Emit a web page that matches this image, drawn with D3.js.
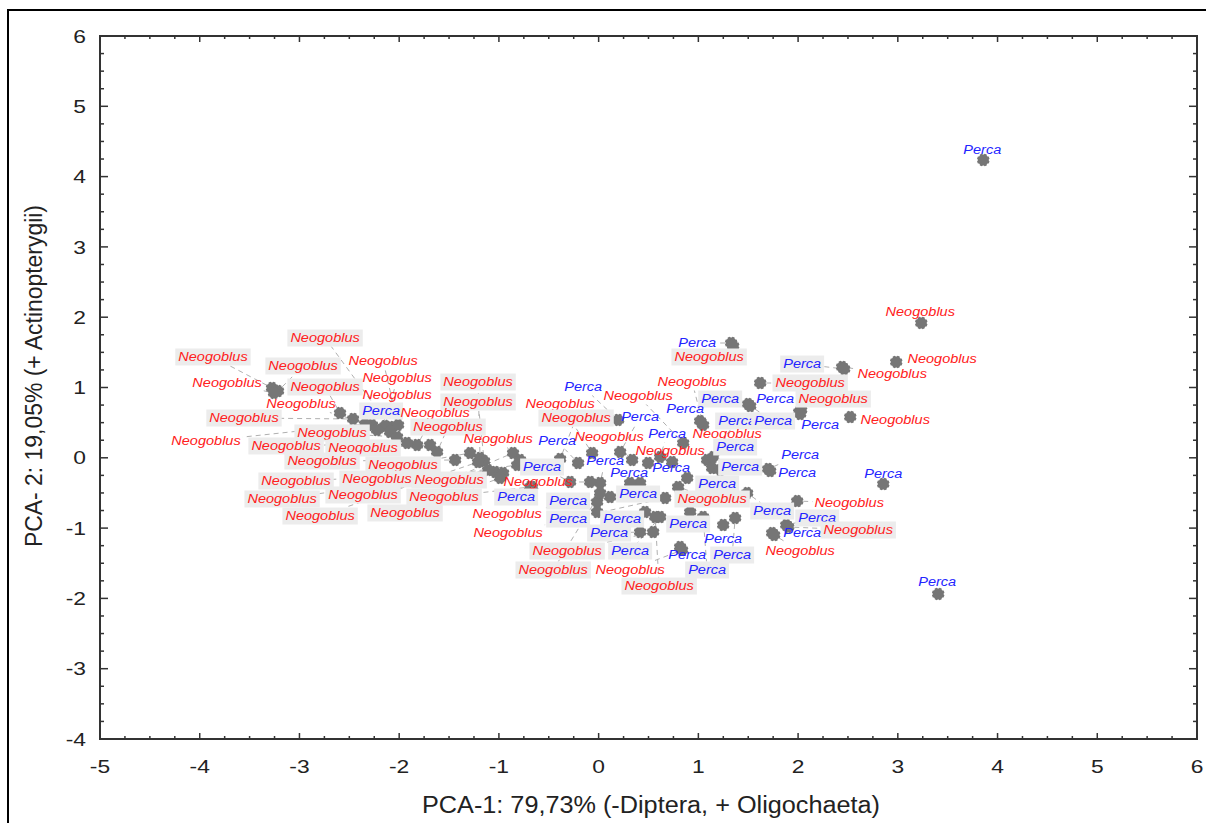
<!DOCTYPE html>
<html><head><meta charset="utf-8">
<script src="https://cdn.jsdelivr.net/npm/d3@7"></script>
<style>html,body{margin:0;padding:0;background:#fff;overflow:hidden;} svg{display:block;}</style>
</head><body>
<script>
// ---------- DATA ----------
const N = "Neogoblus", P = "Perca";
const species = [
  N,N,N,N,N,N,N,N,N,N, N,N,P,N,N,N,N,N,N,N, N,N,N,N,N,N,N,N,N,N,
  P,N,N,P,N,N,P,P,N,P, P,P,N,P,N,P,N,P,P,P, P,P,N,P,P,P,N,P,N,P,
  P,P,N,P,P,N,P,P,P,N, N,P,N,
  N,N,N,P,N,P,N,P,P,N, P,P,P,N,P,P,N,P,N,P,P
];
const pc1 = [
  -2.091,-3.275,-3.215,-2.011,-3.255,-2.593,-2.141,-1.189,-2.272,-2.222,
  -1.148,-2.462,-2.091,-1.820,-1.620,-2.342,-2.021,-1.921,-1.690,-1.439,
  -1.289,-1.038,-0.958,-0.858,-0.817,-1.108,-0.687,-1.209,-0.988,-0.787,
  1.329,1.349,1.048,0.196,0.848,-0.065,1.499,1.018,-0.386,0.216,
  1.088,-0.206,0.336,0.617,1.138,1.148,0.496,-0.286,0.015,0.416,
  0.737,1.219,-0.085,0.888,-0.667,0.316,0.797,-0.015,0.115,-0.015,
  0.466,0.918,0.667,0.416,1.249,0.547,0.617,0.817,1.369,0.015,
  0.837,1.048,0.567,
  3.235,2.984,2.442,2.462,1.620,2.011,2.031,1.520,2.021,2.523,
  1.700,1.720,2.854,1.991,1.489,1.881,1.901,1.740,1.760,3.857,3.405
];
const pc2 = [
  0.438,0.993,0.950,0.467,0.922,0.637,0.452,-0.003,0.467,0.395,
  -0.046,0.552,0.367,0.182,0.083,0.481,0.296,0.211,0.182,-0.031,
  0.068,-0.202,-0.216,0.068,-0.102,-0.174,-0.415,-0.060,-0.287,-0.031,
  1.633,1.590,0.467,0.538,0.211,0.068,0.765,0.523,-0.017,0.083,
  -0.031,-0.074,-0.031,0.011,-0.145,0.011,-0.074,-0.344,-0.358,-0.358,
  -0.060,-0.174,-0.344,-0.287,-0.415,-0.358,-0.415,-0.629,-0.558,-0.771,
  -0.771,-0.771,-0.572,-1.056,-0.956,-1.056,-0.842,-1.269,-0.856,-0.501,
  -1.312,-0.842,-0.842,
  1.918,1.363,1.292,1.263,1.064,0.651,0.680,0.737,0.623,0.580,
  -0.159,-0.188,-0.373,-0.615,-0.501,-0.956,-0.984,-1.070,-1.098,4.236,-1.937
];
// label anchor positions (in PCA units)
const labelPc1 = [
  -2.743,-3.867,-2.964,-2.161,-3.726,-2.743,-2.021,-1.209,-2.984,-2.021,
  -1.209,-3.556,-2.181,-1.640,-1.510,-3.937,-2.673,-3.134,-2.362,-2.773,
  -1.961,-3.034,-2.222,-1.499,-3.174,-2.362,-1.550,-2.793,-1.941,-1.008,
  0.988,1.108,0.938,-0.155,0.396,-0.386,1.219,0.868,-0.226,0.416,
  1.389,-0.416,0.105,0.687,1.289,1.369,0.717,-0.567,0.065,0.306,
  0.727,1.419,-0.607,1.189,-0.827,0.396,1.138,-0.306,-0.918,-0.306,
  0.236,0.898,-0.908,0.105,1.249,-0.316,0.316,0.888,1.339,-0.456,
  0.316,1.088,0.607,
  3.225,3.445,2.944,2.041,2.121,1.770,2.352,1.750,2.222,2.974,
  2.021,1.991,2.854,2.513,1.740,2.192,2.603,2.041,2.021,3.847,3.395
];
const labelPc2 = [
  1.704,1.434,1.306,1.377,1.064,1.007,1.135,1.078,0.765,0.893,
  0.794,0.566,0.666,0.637,0.438,0.239,0.353,0.168,0.139,-0.046,
  -0.102,-0.330,-0.302,-0.316,-0.586,-0.529,-0.558,-0.828,-0.785,0.267,
  1.633,1.434,1.078,1.007,0.879,0.765,0.836,0.694,0.566,0.580,
  0.523,0.239,0.296,0.339,0.339,0.154,0.097,-0.131,-0.046,-0.216,
  -0.145,-0.131,-0.344,-0.373,-0.558,-0.515,-0.586,-0.615,-0.799,-0.871,
  -0.871,-0.942,-1.070,-1.070,-1.155,-1.326,-1.326,-1.383,-1.383,-1.596,
  -1.596,-1.596,-1.824,
  2.074,1.405,1.192,1.334,1.064,0.836,0.836,0.523,0.467,0.538,
  0.040,-0.216,-0.230,-0.643,-0.757,-0.856,-1.027,-1.070,-1.326,4.378,-1.767
];
const labelShaded = [
  1,1,1,0,0,1,0,1,0,0, 1,1,1,0,1,0,1,1,1,1, 1,1,1,1,1,1,1,1,1,0,
  0,1,0,0,0,0,1,0,1,0, 1,0,0,0,0,1,0,1,0,0, 0,1,0,1,1,1,1,1,0,1,
  1,1,0,1,0,1,1,0,1,1, 0,1,1,
  0,0,0,1,1,0,1,1,0,0, 0,0,0,0,1,1,1,0,0,0,0
];
const xTickValues = [-5,-4,-3,-2,-1,0,1,2,3,4,5,6];
const yTickValues = [-4,-3,-2,-1,0,1,2,3,4,5,6];
const xTitle = "PCA-1: 79,73% (-Diptera, + Oligochaeta)";
const yTitle = "PCA- 2: 19,05% (+ Actinopterygii)";

// ---------- DRAW ----------
const W = 1206, H = 823;
const svg = d3.select("body").append("svg").attr("width", W).attr("height", H);
const FONT = "'Liberation Sans', Arial, sans-serif";

svg.append("rect").attr("x", 8).attr("y", 10).attr("width", 1220).attr("height", 840)
  .attr("fill", "#fff").attr("stroke", "#000").attr("stroke-width", 2);

const x = d3.scaleLinear().domain([-5, 6]).range([100, 1197]);
const y = d3.scaleLinear().domain([-4, 6]).range([739, 36]);

function stretch(sel, k) {
  sel.each(function () {
    const l = this.getComputedTextLength();
    d3.select(this).attr("textLength", l * k).attr("lengthAdjust", "spacingAndGlyphs");
  });
}

const records = species.map((s, i) => ({
  s, mx: x(pc1[i]), my: y(pc2[i]), lx: x(labelPc1[i]), ly: y(labelPc2[i]), bg: labelShaded[i]
}));

// label metrics
const measure = svg.append("text").attr("font-family", FONT).attr("font-style", "italic").attr("font-size", 12.3);
const widthOf = {};
[N, P].forEach(t => { measure.text(t); widthOf[t] = measure.node().getComputedTextLength() * 1.18; });
measure.remove();

// leader lines
const lead = svg.append("g").attr("stroke", "#b0b0b0").attr("stroke-width", 1).attr("stroke-dasharray", "5,4").attr("fill", "none");
records.forEach(r => {
  const hw = widthOf[r.s] / 2 + 2, hh = 8.5;
  const dx = r.lx - r.mx, dy = r.ly - r.my;
  const len = Math.hypot(dx, dy);
  if (len < 1) return;
  const s = Math.min(dx !== 0 ? hw / Math.abs(dx) : Infinity, dy !== 0 ? hh / Math.abs(dy) : Infinity);
  if (s >= 1) return;
  const ex = r.lx - dx * s, ey = r.ly - dy * s;
  const rem = len * (1 - s);
  if (rem < 10) return;
  const sx = r.mx + dx / len * 6, sy = r.my + dy / len * 6;
  lead.append("line").attr("x1", sx).attr("y1", sy).attr("x2", ex).attr("y2", ey);
});

// cog markers (rounded blob with shallow notches)
function cogPath(R1, R2, teeth) {
  const pts = [];
  for (let i = 0; i < teeth; i++) {
    const a = i * 2 * Math.PI / teeth;
    const w = Math.PI / teeth;
    pts.push([R2 * Math.cos(a - w * 0.75), R2 * Math.sin(a - w * 0.75)]);
    pts.push([R1 * Math.cos(a - w * 0.45), R1 * Math.sin(a - w * 0.45)]);
    pts.push([R1 * Math.cos(a + w * 0.45), R1 * Math.sin(a + w * 0.45)]);
    pts.push([R2 * Math.cos(a + w * 0.75), R2 * Math.sin(a + w * 0.75)]);
  }
  return "M" + pts.map(p => p[0].toFixed(2) + "," + p[1].toFixed(2)).join("L") + "Z";
}
const cog = cogPath(6.4, 5.5, 8);
svg.append("g").selectAll("path").data(records).join("path")
  .attr("d", cog).attr("transform", d => `translate(${d.mx},${d.my}) rotate(22.5)`)
  .attr("fill", "#767676");

// labels
const lab = svg.append("g");
records.forEach(r => {
  const w = widthOf[r.s];
  if (r.bg) {
    lab.append("rect").attr("x", r.lx - w / 2 - 3).attr("y", r.ly - 8.5)
      .attr("width", w + 6).attr("height", 17).attr("fill", "#ececec");
  }
  lab.append("text").attr("x", r.lx).attr("y", r.ly).attr("dy", "0.36em")
    .attr("text-anchor", "middle").attr("font-family", FONT).attr("font-style", "italic")
    .attr("font-size", 12.3).attr("fill", r.s === P ? "#2424ff" : "#ff2020")
    .attr("textLength", w).attr("lengthAdjust", "spacingAndGlyphs").text(r.s);
});

// plot frame and ticks
const axisG = svg.append("g").attr("stroke", "#333").attr("stroke-width", 2);
axisG.append("rect").attr("x", 100).attr("y", 36).attr("width", 1097).attr("height", 703).attr("fill", "none");
const minorX = d3.range(-5, 6.001, 0.25).filter(v => Math.abs(v - Math.round(v)) > 1e-6);
const minorY = d3.range(-4, 6.001, 0.25).filter(v => Math.abs(v - Math.round(v)) > 1e-6);
const tk = svg.append("g").attr("stroke", "#333").attr("stroke-width", 1.5);
xTickValues.forEach(v => {
  tk.append("line").attr("x1", x(v)).attr("x2", x(v)).attr("y1", 739).attr("y2", 733);
  tk.append("line").attr("x1", x(v)).attr("x2", x(v)).attr("y1", 36).attr("y2", 42);
});
minorX.forEach(v => {
  tk.append("line").attr("x1", x(v)).attr("x2", x(v)).attr("y1", 739).attr("y2", 736);
  tk.append("line").attr("x1", x(v)).attr("x2", x(v)).attr("y1", 36).attr("y2", 39);
});
yTickValues.forEach(v => {
  tk.append("line").attr("y1", y(v)).attr("y2", y(v)).attr("x1", 100).attr("x2", 108);
  tk.append("line").attr("y1", y(v)).attr("y2", y(v)).attr("x1", 1197).attr("x2", 1189);
});
minorY.forEach(v => {
  tk.append("line").attr("y1", y(v)).attr("y2", y(v)).attr("x1", 100).attr("x2", 104);
  tk.append("line").attr("y1", y(v)).attr("y2", y(v)).attr("x1", 1197).attr("x2", 1193);
});

// tick labels
const xl = svg.append("g").selectAll("text").data(xTickValues).join("text")
  .attr("x", d => x(d)).attr("y", 773).attr("text-anchor", "middle")
  .attr("font-family", FONT).attr("font-size", 19).attr("fill", "#222").text(d => d);
stretch(xl, 1.2);
const yl = svg.append("g").selectAll("text").data(yTickValues).join("text")
  .attr("x", 86).attr("y", d => y(d)).attr("dy", "0.35em").attr("text-anchor", "end")
  .attr("font-family", FONT).attr("font-size", 19).attr("fill", "#222").text(d => d);
stretch(yl, 1.2);

// axis titles
svg.append("text").attr("x", 651).attr("y", 813).attr("text-anchor", "middle")
  .attr("font-family", FONT).attr("font-size", 23).attr("fill", "#222")
  .attr("textLength", 458).attr("lengthAdjust", "spacingAndGlyphs").text(xTitle);
svg.append("text").attr("transform", "translate(42,376) rotate(-90)").attr("text-anchor", "middle")
  .attr("font-family", FONT).attr("font-size", 23).attr("fill", "#222")
  .attr("textLength", 342).attr("lengthAdjust", "spacingAndGlyphs").text(yTitle);
</script>
</body></html>
